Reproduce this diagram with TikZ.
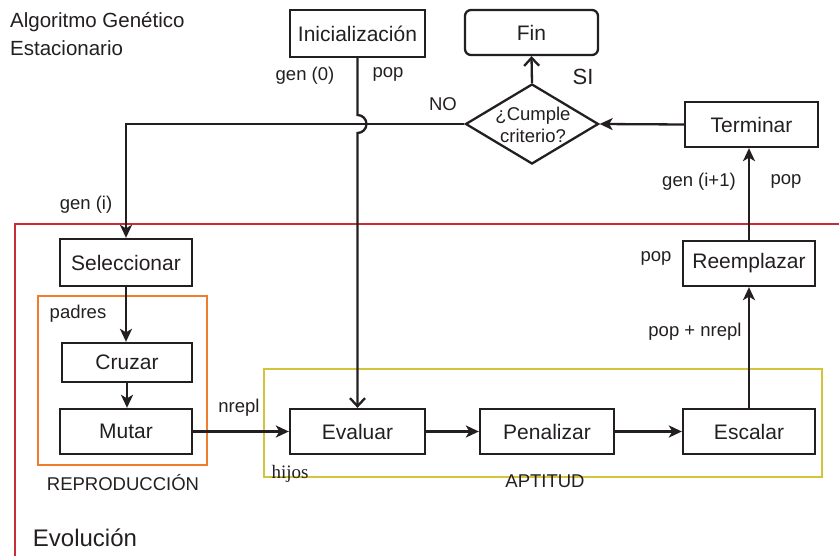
\documentclass[tikz,border=0pt]{standalone}
\usepackage{fontspec}
\setmainfont{Liberation Sans}
\newfontfamily\serifont{Liberation Serif}
\usetikzlibrary{arrows.meta,shapes.geometric}
\definecolor{txt}{RGB}{35,31,32}
\definecolor{redbox}{RGB}{200,45,55}
\definecolor{orangebox}{RGB}{240,125,45}
\definecolor{yellowbox}{RGB}{212,196,60}
\begin{document}
\begin{tikzpicture}[x=1pt,y=-1pt,
  box/.style={draw=txt, line width=2.3pt, inner sep=0pt, text=txt, font=\fontsize{21}{25}\selectfont},
  lbl/.style={inner sep=0pt, text=txt, font=\fontsize{18.5}{22}\selectfont},
  conn/.style={draw=txt, line width=2.3pt, -{Stealth[length=13pt,width=12pt,inset=3.5pt]}},
  openarr/.style={draw=txt, line width=2.3pt, -{Straight Barb[length=8pt,width=15pt]}},
  frame/.style={line width=2.6pt}
]
\useasboundingbox (0,0) rectangle (839,556);

% frames
\draw[frame, redbox] (15,557) -- (15,224) -- (840,224);
\draw[frame, orangebox] (38,296) rectangle (207,465);
\draw[frame, yellowbox] (264,369) rectangle (822,477);

% title
\node[lbl, anchor=west, font=\fontsize{20.5}{24}\selectfont] (t1) at (10,22) {Algoritmo Genético};
\node[lbl, anchor=west, font=\fontsize{20.5}{24}\selectfont] (t2) at (10,48) {Estacionario};

% boxes
\node[box, minimum width=135pt, minimum height=47pt] (ini) at (357.5,33.5) {Inicialización};
\node[box, rounded corners=6pt, minimum width=133pt, minimum height=45pt] (fin) at (531.5,32.5) {Fin};
\node[draw=txt, diamond, line width=2.3pt, minimum width=133pt, minimum height=80pt, inner sep=0pt] (dia) at (532,124) {};
\node[lbl, align=center, font=\fontsize{18.5}{22}\selectfont] (diat) at (533,125) {¿Cumple\\criterio?};
\node[box, minimum width=133pt, minimum height=45pt] (term) at (751.5,124.5) {Terminar};
\node[box, minimum width=132pt, minimum height=47pt] (sel) at (126,262.5) {Seleccionar};
\node[box, minimum width=130pt, minimum height=39pt] (cruz) at (127,362.5) {Cruzar};
\node[box, minimum width=132pt, minimum height=45pt] (mut) at (126,431.5) {Mutar};
\node[box, minimum width=135pt, minimum height=45pt] (eval) at (357.5,431.5) {Evaluar};
\node[box, minimum width=134pt, minimum height=45pt] (pen) at (547,431.5) {Penalizar};
\node[box, minimum width=132pt, minimum height=45pt] (esc) at (749,431.5) {Escalar};
\node[box, minimum width=132pt, minimum height=45pt] (reem) at (749,263.5) {Reemplazar};

% connectors
\coordinate (jc) at (ini.south |- dia.west);
\draw[openarr] (ini.south) -- ([yshift=9pt]jc) arc[start angle=90, end angle=-90, radius=9pt] -- (eval.north);
\draw[conn] (dia.west) -| (sel.north);
\draw[openarr] (dia.north) -- (fin.south);
\draw[conn] (term.west) -- (dia.east);
\draw[conn] (reem.north) -- (reem.north |- term.south);
\draw[conn] (esc.north) -- (reem.south);
\draw[conn] (pen.east) -- (esc.west);
\draw[conn] (eval.east) -- (pen.west);
\draw[conn] (mut.east) -- (eval.west);
\draw[conn] (sel.south) -- (sel.south |- cruz.north);
\draw[conn] (cruz.south) -- (cruz.south |- mut.north);

% labels
\node[lbl] (lg0) at (305,76) {gen (0)};
\node[lbl] (lpop1) at (388,74) {pop};
\node[lbl] (lno) at (443,104) {NO};
\node[lbl, font=\fontsize{22}{26}\selectfont] (lsi) at (583,77) {SI};
\node[lbl] (lgi1) at (699,182) {gen (i+1)};
\node[lbl] (lpop2) at (786,181) {pop};
\node[lbl] (lgi) at (86,205) {gen (i)};
\node[lbl] (lpop3) at (656,258) {pop};
\node[lbl] (lpn) at (695,332) {pop + nrepl};
\node[lbl] (lpad) at (78,314) {padres};
\node[lbl] (lnr) at (239,408) {nrepl};
\node[lbl, font=\serifont\fontsize{19}{22}\selectfont] (lhij) at (290,474) {hijos};
\node[lbl] (lrep) at (123,483) {REPRODUCCIÓN};
\node[lbl] (lapt) at (545,481) {APTITUD};
\node[lbl, font=\fontsize{24}{28}\selectfont] (levo) at (85,538) {Evolución};
\end{tikzpicture}
\end{document}
